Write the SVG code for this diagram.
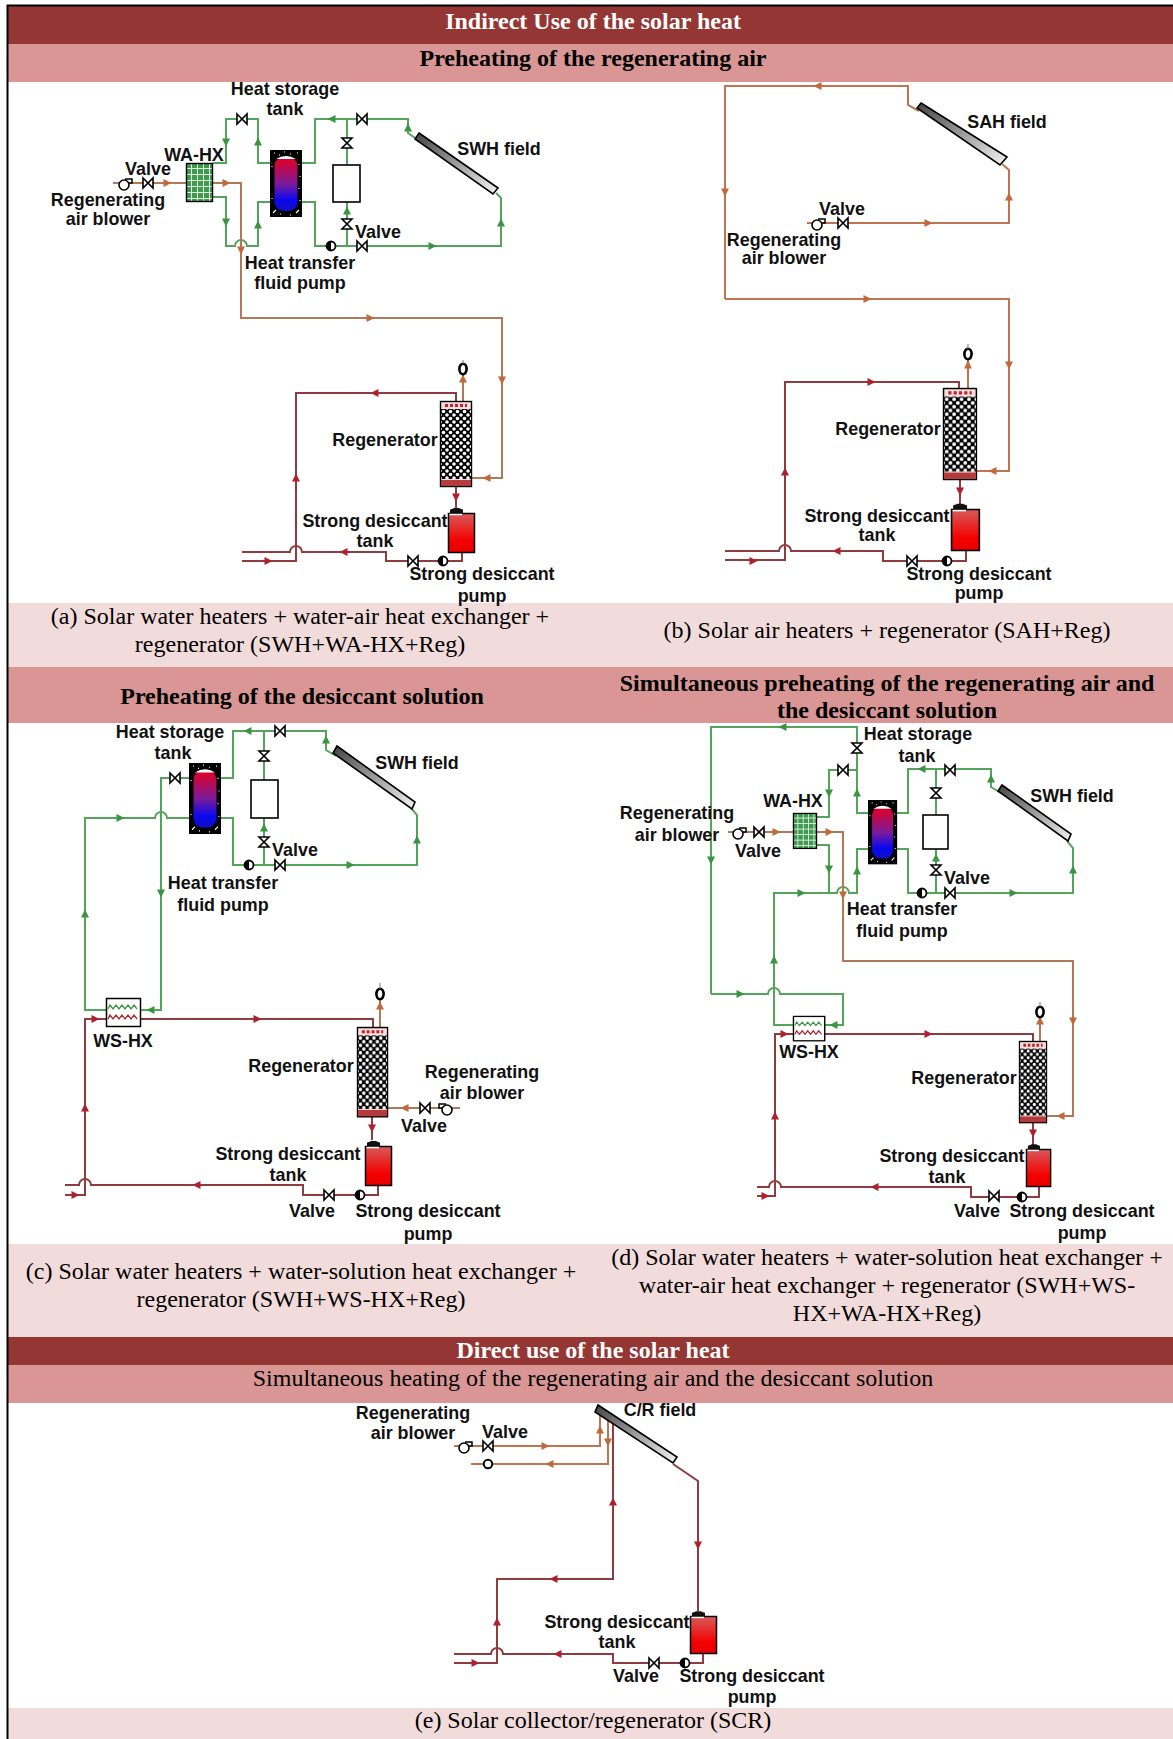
<svg xmlns="http://www.w3.org/2000/svg" xmlns:xlink="http://www.w3.org/1999/xlink" width="1173" height="1739" viewBox="0 0 1173 1739">
<style>
.hd{font:bold 24px "Liberation Serif","Times New Roman",serif;text-anchor:middle;fill:#000}
.wh{fill:#fff}
.cp{font:24px "Liberation Serif","Times New Roman",serif;text-anchor:middle;fill:#000}
.lb{font:bold 17.9px "Liberation Sans",Arial,sans-serif;text-anchor:middle;fill:#111}
.dark{fill:#943634}.mid{fill:#D99694}.pale{fill:#F2DBDB}
.g,.o,.o2,.r{fill:none;stroke-width:2;stroke-linejoin:miter}
.g{stroke:#55a45c}.o{stroke:#b07a58}.o2{stroke:#c07550}.r{stroke:#8f3c40}
.ag{fill:#3b9440}.ao{fill:#c06a3c}.ar{fill:#b0202c}
.col{fill:url(#colG);stroke:#000;stroke-width:1.6}
.box{fill:#fff;stroke:#000;stroke-width:1.6}
</style>
<defs>
<linearGradient id="colG" x1="0" y1="0" x2="1" y2="1"><stop offset="0" stop-color="#444"/><stop offset="1" stop-color="#f4f4f4"/></linearGradient>
<linearGradient id="tankG" x1="0" y1="0" x2="0" y2="1"><stop offset="0" stop-color="#d85a5a"/><stop offset=".7" stop-color="#f40000"/><stop offset="1" stop-color="#e80000"/></linearGradient>
<linearGradient id="storeG" x1="0" y1="0" x2="0" y2="1"><stop offset="0" stop-color="#e8001e"/><stop offset=".5" stop-color="#7a1a9a"/><stop offset=".8" stop-color="#0808f0"/><stop offset="1" stop-color="#1010c0"/></linearGradient>
<pattern id="pack" width="7" height="7" patternUnits="userSpaceOnUse"><rect width="7" height="7" fill="#000"/><circle cx="0" cy="0" r="1.8" fill="#fff"/><circle cx="7" cy="0" r="1.8" fill="#fff"/><circle cx="0" cy="7" r="1.8" fill="#fff"/><circle cx="7" cy="7" r="1.8" fill="#fff"/><circle cx="3.5" cy="3.5" r="1.8" fill="#fff"/></pattern>
<pattern id="grid" width="6" height="6" patternUnits="userSpaceOnUse"><rect width="6" height="6" fill="#3f9a4f"/><path d="M5.5 0V6M0 5.5H6" stroke="#dff0e0" stroke-width="1"/></pattern>
<path id="a" d="M4.5 0L-3.5-4V4Z"/>
<path id="valve" d="M-5-5L5 5V-5L-5 5Z" fill="#fff" stroke="#000" stroke-width="1.6"/>
<g id="pump"><circle r="4.5" fill="#fff" stroke="#000" stroke-width="1.8"/><path d="M0-4.5A4.5 4.5 0 0 0 0 4.5Z" fill="#000"/></g>
<g id="blower"><path d="M1-6H8V-2H3" fill="#fff" stroke="#000" stroke-width="1.5"/><circle r="5" fill="#fff" stroke="#000" stroke-width="1.6"/></g>
<ellipse id="exh" rx="3.6" ry="5.2" fill="#fff" stroke="#000" stroke-width="2.6"/>
<g id="regen"><rect x=".5" y=".5" width="31" height="85" fill="#f6dede" stroke="#000" stroke-width="1.4"/><path d="M5 4.5H27" stroke="#c2202c" stroke-width="3" stroke-dasharray="3 2"/><rect x="1" y="8" width="30" height="70" fill="url(#pack)"/><rect x="1" y="79" width="30" height="6" fill="#b43a3c"/></g>
<g id="tank"><path d="M2 0V-3Q2-4 4-4L6-5H11L13-4Q15-4 15-3V0Z" fill="#111"/><rect x=".5" y=".5" width="26" height="39" fill="url(#tankG)" stroke="#000" stroke-width="1.5"/><path d="M1.500 1.500H14" stroke="#fff" stroke-width="1.500"/></g>
<g id="store"><rect width="32" height="67" fill="#000"/><rect x="4.500" y="7" width="23" height="54" rx="9" fill="url(#storeG)"/><path d="M6 9Q16 3 26 9Z" fill="#fff"/><path d="M4 3h1M9 5h1M14 2h1M20 4h1M27 3h1M29 14v1M30 26v1M29 38v1M30 50v1M2 16v1M2 48v1M3 63l3-3M26 63l3-3M10 64h1M20 65h1" stroke="#fff" stroke-width="1.100" fill="none"/></g>
<g id="wahx"><rect x=".5" y=".5" width="26" height="38" fill="url(#grid)" stroke="#000" stroke-width="1.400"/></g>
<g id="wshx"><rect x=".5" y=".5" width="34" height="28" fill="#fff" stroke="#000" stroke-width="1.500"/><path d="M2 11l2-4 3 4 3-4 3 4 3-4 3 4 3-4 3 4 3-4 3 4" fill="none" stroke="#3b9440" stroke-width="1.300"/><path d="M2 21l2-4 3 4 3-4 3 4 3-4 3 4 3-4 3 4 3-4 3 4" fill="none" stroke="#a8242c" stroke-width="1.300"/></g>
</defs>

<g id="table">
<rect width="1173" height="1739" fill="#fff"/>
<rect x="8" y="6" width="1165" height="38" class="dark"/>
<rect x="8" y="44" width="1165" height="38" class="mid"/>
<rect x="8" y="603" width="1165" height="64" class="pale"/>
<rect x="8" y="667" width="1165" height="56" class="mid"/>
<rect x="8" y="1244" width="1165" height="93" class="pale"/>
<rect x="8" y="1337" width="1165" height="28" class="dark"/>
<rect x="8" y="1365" width="1165" height="38" class="mid"/>
<rect x="8" y="1708" width="1165" height="31" class="pale"/>
<path d="M7.500 5V1739M6.500 5.500H1173" stroke="#000" stroke-width="2" fill="none"/>
<text class="hd wh" x="593" y="29">Indirect Use of the solar heat</text>
<text class="hd" x="593" y="66">Preheating of the regenerating air</text>
<text class="cp" x="300" y="624">(a) Solar water heaters + water-air heat exchanger +</text>
<text class="cp" x="300" y="652">regenerator (SWH+WA-HX+Reg)</text>
<text class="cp" x="887" y="638">(b) Solar air heaters + regenerator (SAH+Reg)</text>
<text class="hd" x="302" y="704">Preheating of the desiccant solution</text>
<text class="hd" x="887" y="691">Simultaneous preheating of the regenerating air and</text>
<text class="hd" x="887" y="718">the desiccant solution</text>
<text class="cp" x="301" y="1279">(c) Solar water heaters + water-solution heat exchanger +</text>
<text class="cp" x="301" y="1307">regenerator (SWH+WS-HX+Reg)</text>
<text class="cp" x="887" y="1265">(d) Solar water heaters + water-solution heat exchanger +</text>
<text class="cp" x="887" y="1293">water-air heat exchanger + regenerator (SWH+WS-</text>
<text class="cp" x="887" y="1321">HX+WA-HX+Reg)</text>
<text class="hd wh" x="593" y="1358">Direct use of the solar heat</text>
<text class="cp" x="593" y="1386">Simultaneous heating of the regenerating air and the desiccant solution</text>
<text class="cp" x="593" y="1728">(e) Solar collector/regenerator (SCR)</text>
</g>

<g id="connectors">
<!-- a -->
<path class="g" d="M213 163H226V119H258V163H270M213 197H226V246H235a6 6 0 0 1 12 0H258V202H270M302 163H315V119H408V133L418 140M496 193L501 198V246H315V202H302M347 119V165M347 202V246"/>
<path class="o" d="M113 183H186M213 183H241V318H502V478H472M463 401V369"/>
<path class="r" d="M456 401V393H296V561H242M456 487V510M462 553V561H386V552H302a6 6 0 0 0 -12 0H242"/>
<use href="#a" class="ag" transform="translate(332,119) rotate(180)"/><use href="#a" class="ag" transform="translate(408,128) rotate(-90)"/><use href="#a" class="ag" transform="translate(226,142) rotate(90)"/><use href="#a" class="ag" transform="translate(258,142) rotate(-90)"/><use href="#a" class="ag" transform="translate(226,222) rotate(90)"/><use href="#a" class="ag" transform="translate(258,225) rotate(-90)"/><use href="#a" class="ag" transform="translate(501,223) rotate(-90)"/><use href="#a" class="ag" transform="translate(432,246)"/><use href="#a" class="ag" transform="translate(347,211) rotate(-90)"/>
<use href="#a" class="ao" transform="translate(167,183)"/><use href="#a" class="ao" transform="translate(226,183)"/><use href="#a" class="ao" transform="translate(241,250) rotate(90)"/><use href="#a" class="ao" transform="translate(370,318)"/><use href="#a" class="ao" transform="translate(502,380) rotate(90)"/><use href="#a" class="ao" transform="translate(487,478) rotate(180)"/><use href="#a" class="ao" transform="translate(463,379) rotate(-90)"/>
<use href="#a" class="ar" transform="translate(375,393) rotate(180)"/><use href="#a" class="ar" transform="translate(296,478) rotate(-90)"/><use href="#a" class="ar" transform="translate(456,497) rotate(90)"/><use href="#a" class="ar" transform="translate(344,552) rotate(180)"/><use href="#a" class="ar" transform="translate(268,561)"/>
<!-- b -->
<path class="o2" d="M725 299V86H908V105L919 111M1002 164L1009 170V223H807M725 299H1009V471H977M968 388V354"/>
<path class="r" d="M959 388V382H785V560H725M960 480V505M966 551V561H883V551H791a6 6 0 0 0 -12 0H725"/>
<use href="#a" class="ao" transform="translate(818,86) rotate(180)"/><use href="#a" class="ao" transform="translate(725,192) rotate(90)"/><use href="#a" class="ao" transform="translate(1009,197) rotate(-90)"/><use href="#a" class="ao" transform="translate(928,223)"/><use href="#a" class="ao" transform="translate(867,299)"/><use href="#a" class="ao" transform="translate(1009,365) rotate(90)"/><use href="#a" class="ao" transform="translate(993,471) rotate(180)"/><use href="#a" class="ao" transform="translate(968,365) rotate(-90)"/>
<use href="#a" class="ar" transform="translate(871,382)"/><use href="#a" class="ar" transform="translate(785,472) rotate(-90)"/><use href="#a" class="ar" transform="translate(753,561)"/><use href="#a" class="ar" transform="translate(960,491) rotate(90)"/><use href="#a" class="ar" transform="translate(837,551) rotate(180)"/>
<!-- c -->
<path class="g" d="M221 778H233V731H326V750L336 756M411 808L417 815V865H233V818H221M264 731V780M264 818V865M189 778H161V1010H141M189 818H167a6 6 0 0 0 -12 0H85V1010H106"/>
<path class="r" d="M106 1019H85V1195H65M141 1019H373V1027M372 1117V1140M378 1186V1195H303V1185H91a6 6 0 0 0 -12 0H65"/>
<path class="o" d="M380 1027V994M388 1108H460"/>
<use href="#a" class="ag" transform="translate(248,731) rotate(180)"/><use href="#a" class="ag" transform="translate(326,740) rotate(-90)"/><use href="#a" class="ag" transform="translate(264,828) rotate(-90)"/><use href="#a" class="ag" transform="translate(417,840) rotate(-90)"/><use href="#a" class="ag" transform="translate(350,865)"/><use href="#a" class="ag" transform="translate(151,1010) rotate(180)"/><use href="#a" class="ag" transform="translate(120,818)"/><use href="#a" class="ag" transform="translate(85,914) rotate(-90)"/><use href="#a" class="ag" transform="translate(161,893) rotate(90)"/>
<use href="#a" class="ar" transform="translate(95,1019)"/><use href="#a" class="ar" transform="translate(257,1019)"/><use href="#a" class="ar" transform="translate(85,1108) rotate(-90)"/><use href="#a" class="ar" transform="translate(75,1195)"/><use href="#a" class="ar" transform="translate(372,1128) rotate(90)"/><use href="#a" class="ar" transform="translate(197,1185) rotate(180)"/>
<use href="#a" class="ao" transform="translate(380,1006) rotate(-90)"/><use href="#a" class="ao" transform="translate(405,1108) rotate(180)"/>
<!-- d -->
<path class="g" d="M711 994V727H857V813H868M857 770H829V817H817M897 813H908V769H991V787L1001 793M1067 841L1073 848V893H908V849H897M936 769V815M936 849V893M817 845H829V893H837a6 6 0 0 1 12 0H857V849H868M829 893H774V1025H793M711 994H768a6 6 0 0 1 12 0H843V1025H825"/>
<path class="o" d="M728 832H793M817 832H843V961H1073V1116H1047M1040 1041V1012"/>
<path class="r" d="M793 1034H775V1196H757M825 1034H1033V1041M1033 1123V1148M1039 1187V1197H971V1187H781a6 6 0 0 0 -12 0H757"/>
<use href="#a" class="ag" transform="translate(783,727) rotate(180)"/><use href="#a" class="ag" transform="translate(922,769) rotate(180)"/><use href="#a" class="ag" transform="translate(991,779) rotate(-90)"/><use href="#a" class="ag" transform="translate(936,858) rotate(-90)"/><use href="#a" class="ag" transform="translate(1073,870) rotate(-90)"/><use href="#a" class="ag" transform="translate(1013,893)"/><use href="#a" class="ag" transform="translate(829,793) rotate(90)"/><use href="#a" class="ag" transform="translate(857,793) rotate(-90)"/><use href="#a" class="ag" transform="translate(829,869) rotate(90)"/><use href="#a" class="ag" transform="translate(857,871) rotate(-90)"/><use href="#a" class="ag" transform="translate(801,893)"/><use href="#a" class="ag" transform="translate(774,960) rotate(-90)"/><use href="#a" class="ag" transform="translate(740,994)"/><use href="#a" class="ag" transform="translate(711,860) rotate(90)"/><use href="#a" class="ag" transform="translate(834,1025) rotate(180)"/>
<use href="#a" class="ao" transform="translate(776,832)"/><use href="#a" class="ao" transform="translate(829,832)"/><use href="#a" class="ao" transform="translate(843,895) rotate(90)"/><use href="#a" class="ao" transform="translate(1073,1021) rotate(90)"/><use href="#a" class="ao" transform="translate(1061,1116) rotate(180)"/><use href="#a" class="ao" transform="translate(1040,1021) rotate(-90)"/>
<use href="#a" class="ar" transform="translate(784,1034)"/><use href="#a" class="ar" transform="translate(928,1034)"/><use href="#a" class="ar" transform="translate(775,1116) rotate(-90)"/><use href="#a" class="ar" transform="translate(765,1196)"/><use href="#a" class="ar" transform="translate(1033,1133) rotate(90)"/><use href="#a" class="ar" transform="translate(875,1187) rotate(180)"/>
<!-- e -->
<path class="r" d="M613 1420V1579H497V1663H454M673 1464L698 1481V1611M703 1654V1663H613V1654H503a6 6 0 0 0 -12 0H454"/>
<path class="o2" d="M454 1446H600V1415M608 1415V1464H471"/>
<use href="#a" class="ar" transform="translate(613,1502) rotate(-90)"/><use href="#a" class="ar" transform="translate(554,1579) rotate(180)"/><use href="#a" class="ar" transform="translate(497,1622) rotate(-90)"/><use href="#a" class="ar" transform="translate(475,1663)"/><use href="#a" class="ar" transform="translate(698,1545) rotate(90)"/><use href="#a" class="ar" transform="translate(558,1654) rotate(180)"/>
<use href="#a" class="ao" transform="translate(545,1446)"/><use href="#a" class="ao" transform="translate(600,1430) rotate(-90)"/><use href="#a" class="ao" transform="translate(608,1442) rotate(90)"/><use href="#a" class="ao" transform="translate(550,1464) rotate(180)"/>
</g>

<g id="panel-a">
<g id="a-blower"><use href="#blower" x="124" y="185"/><text class="lb" x="108" y="206">Regenerating</text><text class="lb" x="108" y="225">air blower</text></g>
<g id="a-valve1"><use href="#valve" x="148" y="183"/><text class="lb" x="148" y="175">Valve</text></g>
<g id="a-wahx"><use href="#wahx" transform="translate(186,163)"/><text class="lb" x="194" y="161">WA-HX</text></g>
<g id="a-store"><use href="#store" transform="translate(270,150)"/><text class="lb" x="285" y="95">Heat storage</text><text class="lb" x="285" y="115">tank</text></g>
<g id="a-valve2"><use href="#valve" x="242" y="119"/></g>
<g id="a-valve3"><use href="#valve" x="362" y="119"/></g>
<g id="a-valve4"><use href="#valve" transform="translate(347,143) rotate(90)"/></g>
<g id="a-box"><rect class="box" x="333" y="165" width="27" height="37"/></g>
<g id="a-valve5"><use href="#valve" transform="translate(347,224) rotate(90)"/></g>
<g id="a-valve6"><use href="#valve" x="362" y="246"/><text class="lb" x="378" y="238">Valve</text></g>
<g id="a-pump"><use href="#pump" x="331" y="246"/><text class="lb" x="300" y="269">Heat transfer</text><text class="lb" x="300" y="289">fluid pump</text></g>
<g id="a-swh"><polygon class="col" points="419,133 498,188 493,194 415,139"/><text class="lb" x="499" y="155">SWH field</text></g>
<g id="a-reg"><use href="#regen" transform="translate(440,401)"/><text class="lb" x="385" y="446">Regenerator</text></g>
<g id="a-exh"><use href="#exh" x="463" y="369"/><path d="M463 364V360" stroke="#777"/></g>
<g id="a-tank"><use href="#tank" transform="translate(448,513)"/><text class="lb" x="375" y="527">Strong desiccant</text><text class="lb" x="375" y="547">tank</text></g>
<g id="a-valve7"><use href="#valve" x="413" y="561"/></g>
<g id="a-spump"><use href="#pump" x="443" y="561"/><text class="lb" x="482" y="580">Strong desiccant</text><text class="lb" x="482" y="602">pump</text></g>
</g>

<g id="panel-b">
<g id="b-sah"><polygon class="col" points="921,103 1007,157 1000,165 917,108"/><text class="lb" x="1007" y="128">SAH field</text></g>
<g id="b-valve1"><use href="#valve" x="843" y="223"/><text class="lb" x="842" y="215">Valve</text></g>
<g id="b-blower"><use href="#blower" x="817" y="225"/><text class="lb" x="784" y="246">Regenerating</text><text class="lb" x="784" y="264">air blower</text></g>
<g id="b-reg"><use href="#regen" transform="translate(943,388) scale(1.06,1.07)"/><text class="lb" x="888" y="435">Regenerator</text></g>
<g id="b-exh"><use href="#exh" x="968" y="354"/><path d="M968 349V344" stroke="#777"/></g>
<g id="b-tank"><use href="#tank" transform="translate(951,509) scale(1.07,1.05)"/><text class="lb" x="877" y="522">Strong desiccant</text><text class="lb" x="877" y="541">tank</text></g>
<g id="b-valve2"><use href="#valve" x="912" y="561"/></g>
<g id="b-pump"><use href="#pump" x="947" y="561"/><text class="lb" x="979" y="580">Strong desiccant</text><text class="lb" x="979" y="599">pump</text></g>
</g>

<g id="panel-c">
<g id="c-store"><use href="#store" transform="translate(189,763) scale(1,1.06)"/><text class="lb" x="170" y="738">Heat storage</text><text class="lb" x="173" y="759">tank</text></g>
<g id="c-valve1"><use href="#valve" x="175" y="778"/></g>
<g id="c-valve2"><use href="#valve" x="280" y="731"/></g>
<g id="c-valve3"><use href="#valve" transform="translate(264,756) rotate(90)"/></g>
<g id="c-box"><rect class="box" x="251" y="780" width="27" height="38"/></g>
<g id="c-valve4"><use href="#valve" transform="translate(264,842) rotate(90)"/><text class="lb" x="295" y="856">Valve</text></g>
<g id="c-valve5"><use href="#valve" x="280" y="865"/></g>
<g id="c-pump"><use href="#pump" x="249" y="865"/><text class="lb" x="223" y="889">Heat transfer</text><text class="lb" x="223" y="911">fluid pump</text></g>
<g id="c-swh"><polygon class="col" points="337,746 415,802 412,809 333,753"/><text class="lb" x="417" y="769">SWH field</text></g>
<g id="c-wshx"><use href="#wshx" transform="translate(106,998)"/><text class="lb" x="123" y="1047">WS-HX</text></g>
<g id="c-reg"><use href="#regen" transform="translate(357,1027) scale(.97,1.05)"/><text class="lb" x="301" y="1072">Regenerator</text></g>
<g id="c-exh"><use href="#exh" x="380" y="994"/><path d="M380 989V983" stroke="#777"/></g>
<g id="c-valve6"><use href="#valve" x="425" y="1108"/><text class="lb" x="424" y="1132">Valve</text></g>
<g id="c-blower"><use href="#blower" transform="translate(447,1110) scale(-1,1)"/><text class="lb" x="482" y="1078">Regenerating</text><text class="lb" x="482" y="1099">air blower</text></g>
<g id="c-tank"><use href="#tank" transform="translate(365,1146)"/><text class="lb" x="288" y="1160">Strong desiccant</text><text class="lb" x="288" y="1181">tank</text></g>
<g id="c-valve7"><use href="#valve" x="329" y="1195"/><text class="lb" x="312" y="1217">Valve</text></g>
<g id="c-spump"><use href="#pump" x="360" y="1195"/><text class="lb" x="428" y="1217">Strong desiccant</text><text class="lb" x="428" y="1240">pump</text></g>
</g>

<g id="panel-d">
<g id="d-store"><use href="#store" transform="translate(868,800) scale(.91,.96)"/><text class="lb" x="918" y="740">Heat storage</text><text class="lb" x="917" y="762">tank</text></g>
<g id="d-valve1"><use href="#valve" transform="translate(857,748) rotate(90)"/></g>
<g id="d-valve2"><use href="#valve" x="843" y="770"/></g>
<g id="d-wahx"><use href="#wahx" transform="translate(793,813) scale(.89,.92)"/><text class="lb" x="793" y="807">WA-HX</text></g>
<g id="d-blower"><use href="#blower" x="738" y="834"/><text class="lb" x="677" y="819">Regenerating</text><text class="lb" x="677" y="841">air blower</text></g>
<g id="d-valve3"><use href="#valve" x="759" y="832"/><text class="lb" x="758" y="857">Valve</text></g>
<g id="d-valve4"><use href="#valve" x="950" y="770"/></g>
<g id="d-valve5"><use href="#valve" transform="translate(936,793) rotate(90)"/></g>
<g id="d-box"><rect class="box" x="923" y="815" width="25" height="34"/></g>
<g id="d-valve6"><use href="#valve" transform="translate(936,870) rotate(90)"/><text class="lb" x="967" y="884">Valve</text></g>
<g id="d-valve7"><use href="#valve" x="950" y="893"/></g>
<g id="d-pump"><use href="#pump" x="922" y="893"/><text class="lb" x="902" y="915">Heat transfer</text><text class="lb" x="902" y="937">fluid pump</text></g>
<g id="d-swh"><polygon class="col" points="1002,785 1071,834 1068,841 998,791"/><text class="lb" x="1072" y="802">SWH field</text></g>
<g id="d-wshx"><use href="#wshx" transform="translate(793,1016) scale(.92,.87)"/><text class="lb" x="809" y="1058">WS-HX</text></g>
<g id="d-reg"><use href="#regen" transform="translate(1019,1041) scale(.875,.955)"/><text class="lb" x="964" y="1084">Regenerator</text></g>
<g id="d-exh"><use href="#exh" x="1040" y="1012"/><path d="M1040 1007V1002" stroke="#777"/></g>
<g id="d-tank"><use href="#tank" transform="translate(1026,1149) scale(.93,.95)"/><text class="lb" x="952" y="1162">Strong desiccant</text><text class="lb" x="947" y="1183">tank</text></g>
<g id="d-valve8"><use href="#valve" x="994" y="1196"/><text class="lb" x="977" y="1217">Valve</text></g>
<g id="d-spump"><use href="#pump" x="1022" y="1197"/><text class="lb" x="1082" y="1217">Strong desiccant</text><text class="lb" x="1082" y="1239">pump</text></g>
</g>

<g id="panel-e">
<g id="e-cr"><polygon class="col" points="598,1405 677,1457 673,1463 595,1412"/><text class="lb" x="660" y="1416">C/R field</text></g>
<g id="e-blower"><use href="#blower" x="464" y="1448"/><text class="lb" x="413" y="1419">Regenerating</text><text class="lb" x="413" y="1439">air blower</text></g>
<g id="e-valve1"><use href="#valve" x="488" y="1446"/><text class="lb" x="505" y="1438">Valve</text></g>
<g id="e-exh"><circle cx="488" cy="1464" r="4.200" fill="#fff" stroke="#000" stroke-width="2"/></g>
<g id="e-tank"><use href="#tank" transform="translate(690,1616) scale(1,.95)"/><text class="lb" x="617" y="1628">Strong desiccant</text><text class="lb" x="617" y="1648">tank</text></g>
<g id="e-valve2"><use href="#valve" x="654" y="1663"/><text class="lb" x="636" y="1682">Valve</text></g>
<g id="e-pump"><use href="#pump" x="685" y="1663"/><text class="lb" x="752" y="1682">Strong desiccant</text><text class="lb" x="752" y="1703">pump</text></g>
</g>
</svg>
